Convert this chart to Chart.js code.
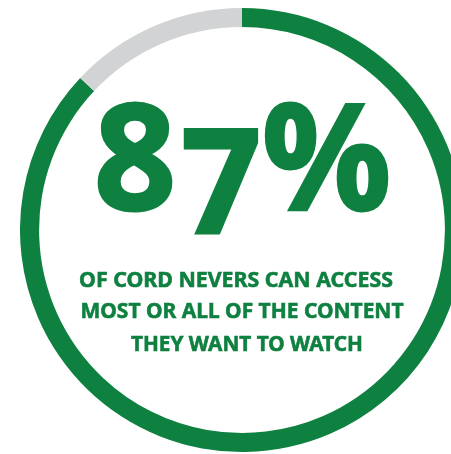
<!DOCTYPE html>
<html><head><meta charset="utf-8">
<script src="https://cdn.jsdelivr.net/npm/chart.js@4"></script>
<style>
html,body{margin:0;padding:0;background:#fff;overflow:hidden;width:451px;height:454px;}
#wrap{position:relative;width:451px;height:454px;overflow:hidden;}
#c{position:absolute;left:20px;top:8px;}
.t{position:absolute;white-space:nowrap;color:#0E8040;font-family:"Noto Sans",sans-serif;font-weight:700;transform-origin:50% 0;line-height:1;-webkit-text-stroke:0.6px #0E8040;}
#big{font-size:147px;font-variant-numeric:oldstyle-nums;font-feature-settings:"onum" 1;-webkit-text-stroke:3px #0E8040;}
.s{font-size:22px;}
</style></head>
<body>
<div id="wrap">
<canvas id="c" width="444" height="444"></canvas>
<div id="big" class="t"></div>
<div id="l0" class="t s"></div>
<div id="l1" class="t s"></div>
<div id="l2" class="t s"></div>
</div>
<script>
const categories = ['Can access most or all of the content', 'Cannot'];
const values = [87, 13];
const colors = ['#0E8040', '#D1D3D4'];
const headline = '87%';
const captionLines = ['OF CORD NEVERS CAN ACCESS', 'MOST OR ALL OF THE CONTENT', 'THEY WANT TO WATCH'];

new Chart(document.getElementById('c'), {
  type: 'doughnut',
  data: { labels: categories, datasets: [{ data: values, backgroundColor: colors, borderWidth: 0, hoverOffset: 0 }] },
  options: {
    responsive: false, animation: false, cutout: '91.4%',
    layout: { padding: 0 },
    plugins: { legend: { display: false }, tooltip: { enabled: false } },
    events: []
  }
});

// layout: [element, centerX, top, targetWidth]
const big = document.getElementById('big');
big.textContent = headline;
const lines = [0,1,2].map(i => { const e = document.getElementById('l'+i); e.textContent = captionLines[i]; return e; });
const place = [
  [big, 243, 80, 296],
  [lines[0], 236, 266.5, 314],
  [lines[1], 242, 297.5, 323],
  [lines[2], 247, 330.5, 232]
];
function layout(){
  place.forEach(([e, cx, top, tw]) => {
    e.style.transform = 'none';
    e.style.left = cx + 'px';
    e.style.top = top + 'px';
    const w = e.getBoundingClientRect().width;
    e.style.transform = 'translateX(-50%) scaleX(' + (tw / w).toFixed(4) + ')';
  });
}
layout();
if (document.fonts && document.fonts.ready) document.fonts.ready.then(layout);
</script>
</body></html>
